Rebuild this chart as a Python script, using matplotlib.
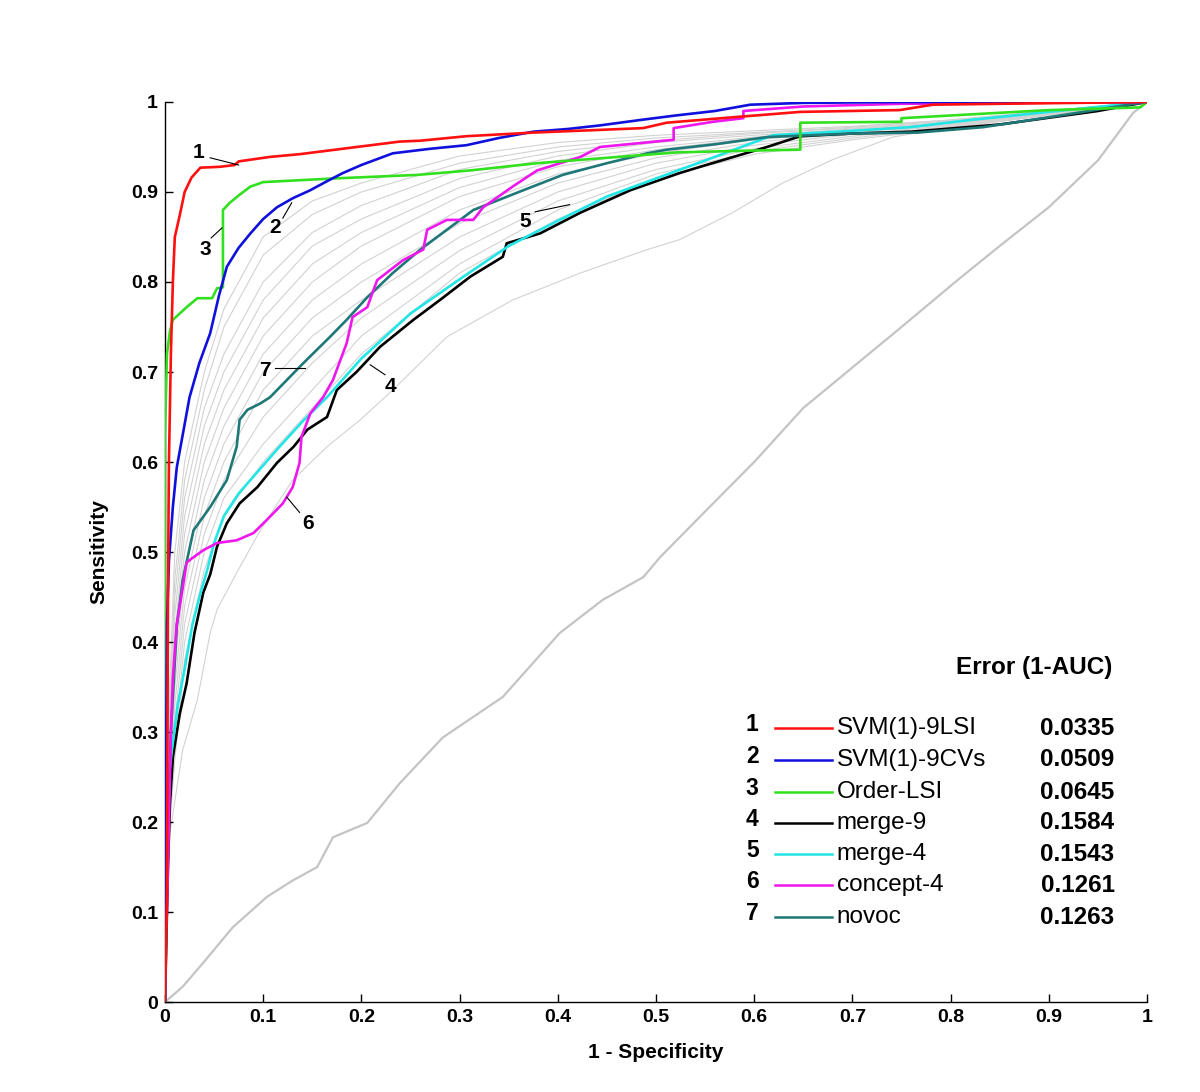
import matplotlib
matplotlib.use("Agg")
import matplotlib.pyplot as plt

plt.rcParams["font.family"] = ["Liberation Sans", "DejaVu Sans"]

# ---- main ROC curves ----
red_x = [0, 0.002, 0.003, 0.004, 0.006, 0.008, 0.01, 0.015, 0.02, 0.027, 0.036, 0.056, 0.071, 0.075,
         0.107, 0.137, 0.188, 0.239, 0.26, 0.307, 0.341, 0.375, 0.443, 0.487, 0.511, 0.578, 0.647,
         0.748, 0.782, 0.85, 1.0]
red_y = [0, 0.12, 0.45, 0.6, 0.72, 0.80, 0.85, 0.874, 0.9, 0.916, 0.927, 0.928, 0.93, 0.934,
         0.939, 0.942, 0.949, 0.956, 0.957, 0.962, 0.964, 0.966, 0.969, 0.971, 0.977, 0.983, 0.989,
         0.991, 0.997, 0.998, 1.0]

blue_x = [0, 0.001, 0.002, 0.004, 0.008, 0.012, 0.018, 0.025, 0.035, 0.046, 0.055, 0.063, 0.075, 0.087,
          0.1, 0.114, 0.13, 0.148, 0.165, 0.181, 0.2, 0.232, 0.27, 0.307, 0.34, 0.375, 0.41, 0.443,
          0.484, 0.52, 0.56, 0.596, 0.65, 0.75, 0.84, 1.0]
blue_y = [0, 0.25, 0.42, 0.49, 0.55, 0.594, 0.63, 0.672, 0.71, 0.743, 0.785, 0.817, 0.838, 0.854,
          0.87, 0.883, 0.893, 0.902, 0.912, 0.921, 0.93, 0.943, 0.948, 0.952, 0.96, 0.967, 0.97, 0.974,
          0.98, 0.985, 0.99, 0.997, 0.999, 1.0, 1.0, 1.0]

green_x = [0, 0.0, 0.002, 0.005, 0.008, 0.015, 0.022, 0.033, 0.048, 0.053, 0.059, 0.059, 0.066, 0.076,
           0.087, 0.1, 0.171, 0.257, 0.311, 0.379, 0.45, 0.521, 0.596, 0.647, 0.647, 0.75, 0.75, 0.9,
           0.993, 1.0]
green_y = [0, 0.63, 0.72, 0.745, 0.758, 0.765, 0.772, 0.782, 0.782, 0.793, 0.794, 0.88, 0.888, 0.897,
           0.906, 0.911, 0.915, 0.919, 0.924, 0.932, 0.938, 0.944, 0.946, 0.947, 0.977, 0.978, 0.982, 0.991,
           0.994, 1.0]

black_x = [0, 0.003, 0.005, 0.008, 0.015, 0.022, 0.03, 0.039, 0.046, 0.053, 0.063, 0.076, 0.094, 0.114,
           0.131, 0.145, 0.165, 0.175, 0.195, 0.219, 0.253, 0.28, 0.311, 0.344, 0.348, 0.382, 0.423,
           0.474, 0.524, 0.545, 0.613, 0.647, 0.7, 0.76, 0.85, 0.95, 1.0]
black_y = [0, 0.15, 0.22, 0.272, 0.32, 0.354, 0.41, 0.455, 0.475, 0.506, 0.532, 0.554, 0.572, 0.599,
           0.617, 0.636, 0.65, 0.68, 0.70, 0.728, 0.758, 0.78, 0.806, 0.828, 0.843, 0.854, 0.877,
           0.902, 0.921, 0.928, 0.95, 0.962, 0.965, 0.967, 0.975, 0.99, 1.0]

cyan_x = [0, 0.002, 0.004, 0.007, 0.013, 0.02, 0.028, 0.035, 0.043, 0.05, 0.06, 0.075, 0.095, 0.115,
          0.14, 0.165, 0.2, 0.25, 0.3, 0.35, 0.4, 0.45, 0.5, 0.55, 0.619, 0.7, 0.759, 0.82, 0.9, 1.0]
cyan_y = [0, 0.2, 0.25, 0.28, 0.33, 0.37, 0.42, 0.45, 0.48, 0.51, 0.54, 0.565, 0.59, 0.615,
          0.645, 0.672, 0.715, 0.765, 0.803, 0.84, 0.868, 0.895, 0.915, 0.935, 0.963, 0.968, 0.972, 0.98, 0.989, 1.0]

magenta_x = [0, 0.0, 0.002, 0.004, 0.006, 0.008, 0.012, 0.018, 0.022, 0.025, 0.039, 0.053, 0.073, 0.09,
             0.104, 0.12, 0.13, 0.137, 0.139, 0.148, 0.161, 0.171, 0.185, 0.191, 0.206, 0.216, 0.242,
             0.263, 0.267, 0.287, 0.314, 0.324, 0.354, 0.379, 0.423, 0.443, 0.518, 0.518, 0.558, 0.589,
             0.589, 0.65, 0.75, 1.0]
magenta_y = [0, 0.07, 0.1, 0.2, 0.3, 0.36, 0.42, 0.46, 0.488, 0.491, 0.502, 0.51, 0.513, 0.521,
             0.536, 0.554, 0.572, 0.599, 0.628, 0.654, 0.672, 0.691, 0.732, 0.761, 0.772, 0.802, 0.824,
             0.836, 0.858, 0.869, 0.869, 0.883, 0.906, 0.924, 0.939, 0.95, 0.958, 0.971, 0.978, 0.982,
             0.99, 0.995, 0.998, 1.0]

teal_x = [0, 0.003, 0.006, 0.012, 0.018, 0.029, 0.046, 0.063, 0.073, 0.076, 0.084, 0.097, 0.107, 0.124,
          0.141, 0.168, 0.185, 0.206, 0.232, 0.26, 0.287, 0.314, 0.365, 0.405, 0.45, 0.491, 0.511, 0.56,
          0.613, 0.7, 0.766, 0.833, 0.9, 0.993, 1.0]
teal_y = [0, 0.2, 0.3, 0.417, 0.469, 0.524, 0.55, 0.58, 0.617, 0.647, 0.658, 0.665, 0.672, 0.691,
          0.71, 0.739, 0.758, 0.783, 0.81, 0.836, 0.858, 0.88, 0.902, 0.919, 0.932, 0.943, 0.947, 0.953,
          0.961, 0.965, 0.966, 0.972, 0.983, 0.999, 1.0]

# ---- background (gray) curves ----
gray_x = [0, 0.003, 0.01, 0.02, 0.04, 0.06, 0.1, 0.15, 0.2, 0.3, 0.4, 0.5, 0.6, 0.7, 0.8, 0.9, 1.0]
gray_ys = [
    [0, 0.30, 0.50, 0.60, 0.70, 0.77, 0.85, 0.89, 0.91, 0.94, 0.955, 0.963, 0.968, 0.973, 0.98, 0.99, 1],
    [0, 0.28, 0.47, 0.58, 0.68, 0.75, 0.83, 0.875, 0.90, 0.932, 0.95, 0.96, 0.966, 0.972, 0.98, 0.99, 1],
    [0, 0.27, 0.45, 0.56, 0.66, 0.72, 0.80, 0.855, 0.885, 0.925, 0.945, 0.957, 0.965, 0.971, 0.979, 0.99, 1],
    [0, 0.26, 0.43, 0.54, 0.64, 0.70, 0.78, 0.84, 0.87, 0.915, 0.94, 0.955, 0.963, 0.97, 0.978, 0.99, 1],
    [0, 0.25, 0.41, 0.52, 0.62, 0.68, 0.76, 0.82, 0.855, 0.905, 0.935, 0.95, 0.961, 0.969, 0.977, 0.989, 1],
    [0, 0.24, 0.39, 0.50, 0.60, 0.66, 0.74, 0.80, 0.84, 0.895, 0.928, 0.947, 0.96, 0.968, 0.976, 0.989, 1],
    [0, 0.22, 0.37, 0.48, 0.58, 0.64, 0.72, 0.78, 0.82, 0.88, 0.92, 0.943, 0.958, 0.967, 0.975, 0.988, 1],
    [0, 0.21, 0.35, 0.46, 0.56, 0.62, 0.70, 0.76, 0.80, 0.865, 0.91, 0.938, 0.955, 0.966, 0.975, 0.988, 1],
    [0, 0.20, 0.33, 0.44, 0.54, 0.60, 0.68, 0.74, 0.78, 0.85, 0.90, 0.932, 0.952, 0.964, 0.974, 0.987, 1],
    [0, 0.19, 0.31, 0.42, 0.52, 0.58, 0.65, 0.71, 0.76, 0.835, 0.89, 0.925, 0.948, 0.962, 0.973, 0.987, 1],
    [0, 0.18, 0.29, 0.40, 0.50, 0.56, 0.62, 0.68, 0.74, 0.82, 0.88, 0.92, 0.945, 0.96, 0.972, 0.986, 1],
    [0, 0.17, 0.27, 0.38, 0.48, 0.54, 0.60, 0.66, 0.72, 0.81, 0.87, 0.915, 0.942, 0.958, 0.971, 0.986, 1],
]
low_x = [0, 0.002, 0.005, 0.018, 0.033, 0.046, 0.053, 0.073, 0.097, 0.13, 0.165, 0.199, 0.232, 0.287,
         0.354, 0.423, 0.491, 0.524, 0.578, 0.629, 0.68, 0.741, 0.8, 0.9, 1.0]
low_y = [0, 0.12, 0.188, 0.28, 0.336, 0.41, 0.436, 0.477, 0.524, 0.58, 0.617, 0.647, 0.68, 0.739,
         0.78, 0.81, 0.836, 0.847, 0.877, 0.91, 0.936, 0.961, 0.972, 0.985, 1.0]
diag_x = [0, 0.018, 0.04, 0.069, 0.104, 0.13, 0.155, 0.171, 0.206, 0.239, 0.283, 0.344, 0.402, 0.446,
          0.487, 0.504, 0.55, 0.6, 0.65, 0.7, 0.75, 0.807, 0.85, 0.9, 0.95, 0.986, 1.0]
diag_y = [0, 0.017, 0.045, 0.083, 0.117, 0.135, 0.15, 0.183, 0.199, 0.243, 0.294, 0.339, 0.41, 0.447,
          0.472, 0.494, 0.545, 0.6, 0.66, 0.705, 0.75, 0.802, 0.84, 0.883, 0.935, 0.988, 1.0]

# ---- legend info ----
names = ["SVM(1)-9LSI", "SVM(1)-9CVs", "Order-LSI", "merge-9", "merge-4", "concept-4", "novoc"]
errors = ["0.0335", "0.0509", "0.0645", "0.1584", "0.1543", "0.1261", "0.1263"]
colors = ["#ff1010", "#1010dd", "#33e01f", "#000000", "#22e5e5", "#ee18ee", "#1f7878"]
curves = [(red_x, red_y), (blue_x, blue_y), (green_x, green_y), (black_x, black_y),
          (cyan_x, cyan_y), (magenta_x, magenta_y), (teal_x, teal_y)]

# curve number labels: text pos, leader line start, leader line end
tag_pos = [(0.034, 0.944), (0.112, 0.86), (0.041, 0.836), (0.23, 0.684),
           (0.367, 0.867), (0.146, 0.532), (0.102, 0.702)]
tag_line = [((0.046, 0.938), (0.075, 0.930)),
            ((0.120, 0.871), (0.129, 0.888)),
            ((0.047, 0.849), (0.058, 0.860)),
            ((0.224, 0.697), (0.209, 0.708)),
            ((0.377, 0.878), (0.412, 0.886)),
            ((0.137, 0.544), (0.124, 0.561)),
            ((0.112, 0.704), (0.143, 0.704))]

fig = plt.figure(figsize=(12, 10.92), dpi=100)
ax = fig.add_axes([0.1375, 0.0824, 0.8183, 0.8242])

ax.plot(diag_x, diag_y, color="#c4c4c4", linewidth=1.6, zorder=1)
for gy in gray_ys:
    ax.plot(gray_x, gy, color="#d2d2d2", linewidth=0.8, zorder=1)
ax.plot(low_x, low_y, color="#d2d2d2", linewidth=0.8, zorder=1)

draw_order = [3, 4, 6, 5, 2, 1, 0]
for i in draw_order:
    cx, cy = curves[i]
    ax.plot(cx, cy, color=colors[i], linewidth=1.9, zorder=3 + draw_order.index(i))

for i in range(7):
    ax.text(tag_pos[i][0], tag_pos[i][1], str(i + 1), fontsize=15, fontweight="bold",
            ha="center", va="center", zorder=20)
    (x0, y0), (x1, y1) = tag_line[i]
    ax.plot([x0, x1], [y0, y1], color="black", linewidth=0.8, zorder=20)

# legend block
row_y = [0.304, 0.269, 0.233, 0.199, 0.164, 0.130, 0.094]
ax.text(0.965, 0.372, "Error (1-AUC)", fontsize=17.5, fontweight="bold", ha="right", va="center")
for i in range(7):
    y = row_y[i]
    ax.text(0.598, y + 0.004, str(i + 1), fontsize=16.5, fontweight="bold", ha="center", va="center")
    ax.plot([0.621, 0.679], [y, y], color=colors[i], linewidth=1.8)
    ax.text(0.684, y, names[i], fontsize=17.5, ha="left", va="center")
    ax.text(0.967, y, errors[i], fontsize=17.5, fontweight="bold", ha="right", va="center")

ax.set_xlim(0, 1)
ax.set_ylim(0, 1)
ticks = [0, 0.1, 0.2, 0.3, 0.4, 0.5, 0.6, 0.7, 0.8, 0.9, 1]
tick_labels = ["0", "0.1", "0.2", "0.3", "0.4", "0.5", "0.6", "0.7", "0.8", "0.9", "1"]
ax.set_xticks(ticks)
ax.set_xticklabels(tick_labels)
ax.set_yticks(ticks)
ax.set_yticklabels(tick_labels)
ax.tick_params(direction="in", length=6, width=1, labelsize=14, pad=5)
for lab in ax.get_xticklabels() + ax.get_yticklabels():
    lab.set_fontweight("bold")
ax.spines["top"].set_visible(False)
ax.spines["right"].set_visible(False)
ax.spines["left"].set_linewidth(1.0)
ax.spines["bottom"].set_linewidth(1.0)
ax.set_xlabel("1 - Specificity", fontsize=15, fontweight="bold", labelpad=12)
ax.set_ylabel("Sensitivity", fontsize=15, fontweight="bold", labelpad=16)

fig.savefig("out.png", dpi=100)
